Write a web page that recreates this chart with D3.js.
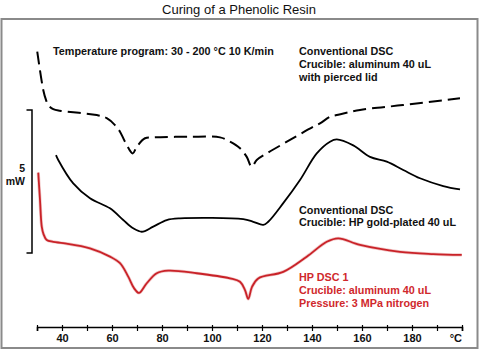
<!DOCTYPE html>
<html><head><meta charset="utf-8">
<script src="https://cdn.jsdelivr.net/npm/d3@7"></script>
<style>
html,body{margin:0;padding:0;background:#fff;}
svg{display:block;font-family:"Liberation Sans",Arial,sans-serif;}
</style></head>
<body>
<svg id="chart" width="480" height="351"></svg>
<script>
// ---- data (temperature in °C, heat flow in mW, arbitrary vertical offsets) ----
const title = "Curing of a Phenolic Resin";
const xTickValues = [30,40,50,60,70,80,90,100,110,120,130,140,150,160,170,180,190,200];
const xTickLabels = {40:"40",60:"60",80:"80",100:"100",120:"120",140:"140",160:"160",180:"180",200:"°C"};

const dashedT = [30.1,32.5,33.6,34.5,36.5,39.2,53.9,57.9,61.2,63.2,65.2,68.3,69.9,73.2,76.4,91.2,103.2,107.2,111.2,113.9,115.9,117.9,121.9,131.2,140.5,143.2,147.2,149.9,159.2,176.4,199.2];
const dashedV = [9.63,8.29,7.94,7.76,7.62,7.56,7.41,7.30,7.06,6.83,6.48,6.07,6.30,6.60,6.63,6.65,6.63,6.48,6.25,5.95,5.60,5.84,6.07,6.54,7.00,7.12,7.35,7.41,7.59,7.76,8.00];

const blackT = [37.6,38.5,44.5,51.2,59.2,64.5,68.5,71.9,76.5,81.9,87.2,112.5,116.5,120.5,122.5,128.5,135.2,141.9,147.2,149.9,156.5,163.2,169.9,176.5,183.2,192.5,199.2];
const blackV = [6.01,5.84,5.02,4.50,4.15,3.74,3.45,3.33,3.51,3.74,3.80,3.77,3.68,3.57,3.68,4.33,5.14,6.07,6.48,6.56,6.35,5.95,5.78,5.49,5.20,4.93,4.81];

const redT = [30.5,31.2,31.9,32.6,33.9,36.5,40.5,51.2,59.2,63.2,66.5,68.8,70.8,73.9,77.9,82.5,93.9,107.2,111.2,113.2,114.5,116.0,118.5,128.5,137.9,145.9,150.5,159.2,175.2,188.5,199.9];
const redV = [5.40,4.44,3.51,3.25,3.04,2.98,2.93,2.75,2.46,2.23,1.76,1.36,1.19,1.53,1.88,1.97,1.88,1.70,1.58,1.29,0.98,1.40,1.70,1.93,2.46,2.98,3.10,2.87,2.63,2.55,2.52];

const scaleBarBottom = 2.59;   // mW position of scale bar lower end
const scaleBarValue = 5;       // mW
const scaleBarLabel = ["5","mW"];

const annoProgram = "Temperature program: 30 - 200 °C 10 K/min";
const annoDashed = ["Conventional DSC","Crucible: aluminum 40 uL","with pierced lid"];
const annoBlack = ["Conventional DSC","Crucible: HP gold-plated 40 uL"];
const annoRed = ["HP DSC 1","Crucible: aluminum 40 uL","Pressure: 3 MPa nitrogen"];

// ---- drawing ----
const svg = d3.select("#chart");
const x = d3.scaleLinear().domain([30,200]).range([37,462]);
const y = d3.scaleLinear().domain([0,10.77]).range([327,19]);
const red = "#c92228";

svg.append("text").attr("x",239).attr("y",13.5).attr("text-anchor","middle")
  .attr("font-size",13).attr("fill","#111").text(title);

svg.append("rect").attr("x",1.5).attr("y",19).attr("width",476).attr("height",329)
  .attr("fill","none").attr("stroke","#8a8a8a").attr("stroke-width",2);

const line = d3.line().x(d=>x(d[0])).y(d=>y(d[1])).curve(d3.curveCatmullRom.alpha(0.5));

svg.append("path").datum(d3.zip(dashedT,dashedV)).attr("d",line)
  .attr("fill","none").attr("stroke","#000").attr("stroke-width",2).attr("stroke-dasharray","13,6");
svg.append("path").datum(d3.zip(blackT,blackV)).attr("d",line)
  .attr("fill","none").attr("stroke","#000").attr("stroke-width",1.8);
svg.append("path").datum(d3.zip(redT,redV)).attr("d",line)
  .attr("fill","none").attr("stroke","#e8a0a0").attr("stroke-width",3.2).attr("opacity",0.6);
svg.append("path").datum(d3.zip(redT,redV)).attr("d",line)
  .attr("fill","none").attr("stroke",red).attr("stroke-width",1.8);

// x axis
const axis = d3.axisBottom(x).tickValues(xTickValues).tickSize(4).tickPadding(3)
  .tickFormat(d => xTickLabels[d] || "");
const gx = svg.append("g").attr("transform","translate(0,327)").call(axis);
gx.select(".domain").attr("stroke","#000").attr("stroke-width",1.6);
gx.selectAll(".tick line").attr("stroke","#000").attr("stroke-width",1.2).attr("y1",-2);
gx.selectAll(".tick text").attr("font-size",11).attr("font-weight","bold")
  .attr("font-family","'Liberation Sans',Arial,sans-serif").attr("fill","#111");
gx.selectAll(".tick").filter(d=>d===200).select("text").attr("text-anchor","end").attr("dx","-0.5");

// scale bar
const sb = svg.append("g").attr("stroke","#000").attr("stroke-width",1.5).attr("fill","none");
const yb0 = y(scaleBarBottom), yb1 = y(scaleBarBottom+scaleBarValue);
sb.append("path").attr("d",`M26.5,${yb1}H32V${yb0}H26.5`);
svg.append("text").attr("x",25).attr("y",172).attr("text-anchor","end").attr("font-size",10.5)
  .attr("font-weight","bold").attr("fill","#111").text(scaleBarLabel[0]);
svg.append("text").attr("x",25).attr("y",185).attr("text-anchor","end").attr("font-size",10.5)
  .attr("font-weight","bold").attr("fill","#111").text(scaleBarLabel[1]);

// annotations
function block(lines, x0, y0, color){
  lines.forEach((t,i)=>{
    svg.append("text").attr("x",x0).attr("y",y0+i*12.8).attr("font-size",10.8)
      .attr("font-weight","bold").attr("fill",color).text(t);
  });
}
block([annoProgram],53,55,"#111");
block(annoDashed,299,55,"#111");
block(annoBlack,299,213.5,"#111");
block(annoRed,299,281,"#d0282c");
</script>
</body></html>
